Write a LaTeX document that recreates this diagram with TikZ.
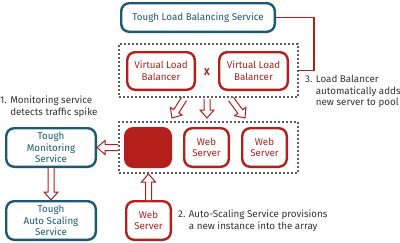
\documentclass[tikz,border=0pt]{standalone}
\usepackage{fontspec}
\setmainfont{Fira Sans}
\usetikzlibrary{calc}
\definecolor{tred}{HTML}{B3201C}
\definecolor{tteal}{HTML}{1B5A72}
\definecolor{tgray}{HTML}{5E5E5E}
\definecolor{ttext}{HTML}{333333}
\begin{document}
\begin{tikzpicture}[x=1pt,y=-1pt,
  font=\fontsize{9.8}{11.6}\selectfont,
  tealbox/.style={draw=tteal, line width=2.4pt, rounded corners=8pt, text=tteal, align=center, inner sep=0pt},
  redbox/.style={draw=tred, line width=2.4pt, rounded corners=8pt, text=tred, align=center, inner sep=0pt},
  dotbox/.style={draw=tgray, line width=2pt, dash pattern=on 2pt off 2pt, inner sep=0pt},
  note/.style={text=ttext, align=left, inner sep=0pt, anchor=north west},
  link/.style={draw=tred, line width=1.6pt},
  harrow/.style={draw=tred, line width=1pt, fill=white, line join=miter,
    to path={
      ($(\tikztotarget)!8pt!(\tikztostart)$) coordinate (hb)
      ($(\tikztostart)!3pt!90:(\tikztotarget)$) -- ($(hb)!3pt!90:(\tikztotarget)$)
      -- ($(hb)!7pt!90:(\tikztotarget)$) -- (\tikztotarget)
      -- ($(hb)!7pt!-90:(\tikztotarget)$) -- ($(hb)!3pt!-90:(\tikztotarget)$)
      -- ($(\tikztostart)!3pt!-90:(\tikztotarget)$)}}
]
\useasboundingbox (0,0) rectangle (400,242);

% top service
\node[tealbox, minimum width=153.6pt, minimum height=28.6pt] (lbs) at (198,17.5) {Tough Load Balancing Service};

% load balancer array
\node[dotbox, minimum width=179pt, minimum height=53pt] (dot1) at (208.5,70.5) {};
\node[redbox, minimum width=67.6pt, minimum height=37.6pt] (vlb1) at (161,71) {Virtual Load\\Balancer};
\node[redbox, minimum width=68.6pt, minimum height=37.6pt] (vlb2) at (253.5,71) {Virtual Load\\Balancer};
\node[text=tred, inner sep=0pt, font=\fontsize{9.8}{11.6}\selectfont\bfseries] (x) at (207,72) {X};

% web server array
\node[dotbox, minimum width=179pt, minimum height=51pt] (dot2) at (208.5,147.5) {};
\node[redbox, fill=tred, minimum width=45.6pt, minimum height=38.6pt] (wsf) at (148,147.5) {};
\node[redbox, minimum width=44.6pt, minimum height=38.6pt] (ws1) at (206.5,147.5) {Web\\Server};
\node[redbox, minimum width=44.6pt, minimum height=38.6pt] (ws2) at (264.5,147.5) {Web\\Server};

% services on the left
\node[tealbox, minimum width=89.6pt, minimum height=38.6pt] (mon) at (51,147.5) {Tough\\Monitoring\\Service};
\node[tealbox, minimum width=89.6pt, minimum height=38.6pt] (auto) at (51,220.5) {Tough\\Auto Scaling\\Service};

% new web server
\node[redbox, minimum width=44.6pt, minimum height=38.6pt] (wsn) at (148.5,220.5) {Web\\Server};

% notes
\node[note] (n1) at (0,96) {1. Monitoring service\\\phantom{1. }detects traffic spike};
\node[note] (n3) at (305,75) {3. Load Balancer\\\phantom{3. }automatically adds\\\phantom{3. }new server to pool};
\node[note] (n2) at (178,210) {2. Auto-Scaling Service provisions\\\phantom{2. }a new instance into the array};

% connector from load balancing service
\draw[link] (lbs.east) -- ++(38,0) |- (dot1.east);

% hollow arrows
\coordinate (a1s) at (184,99);
\coordinate (a1e) at (172,118);
\coordinate (a2s) at (207,99);
\coordinate (a2e) at (207,118);
\coordinate (a3s) at (231,99);
\coordinate (a3e) at (245,118);
\coordinate (upend) at (wsn.north |- dot2.south);
\draw[harrow] (a1s) to (a1e);
\draw[harrow] (a2s) to (a2e);
\draw[harrow] (a3s) to (a3e);
\draw[harrow] (dot2.west) to (mon.east);
\draw[harrow] (mon.south) to (auto.north);
\draw[harrow] (wsn.north) to (upend);
\end{tikzpicture}
\end{document}
